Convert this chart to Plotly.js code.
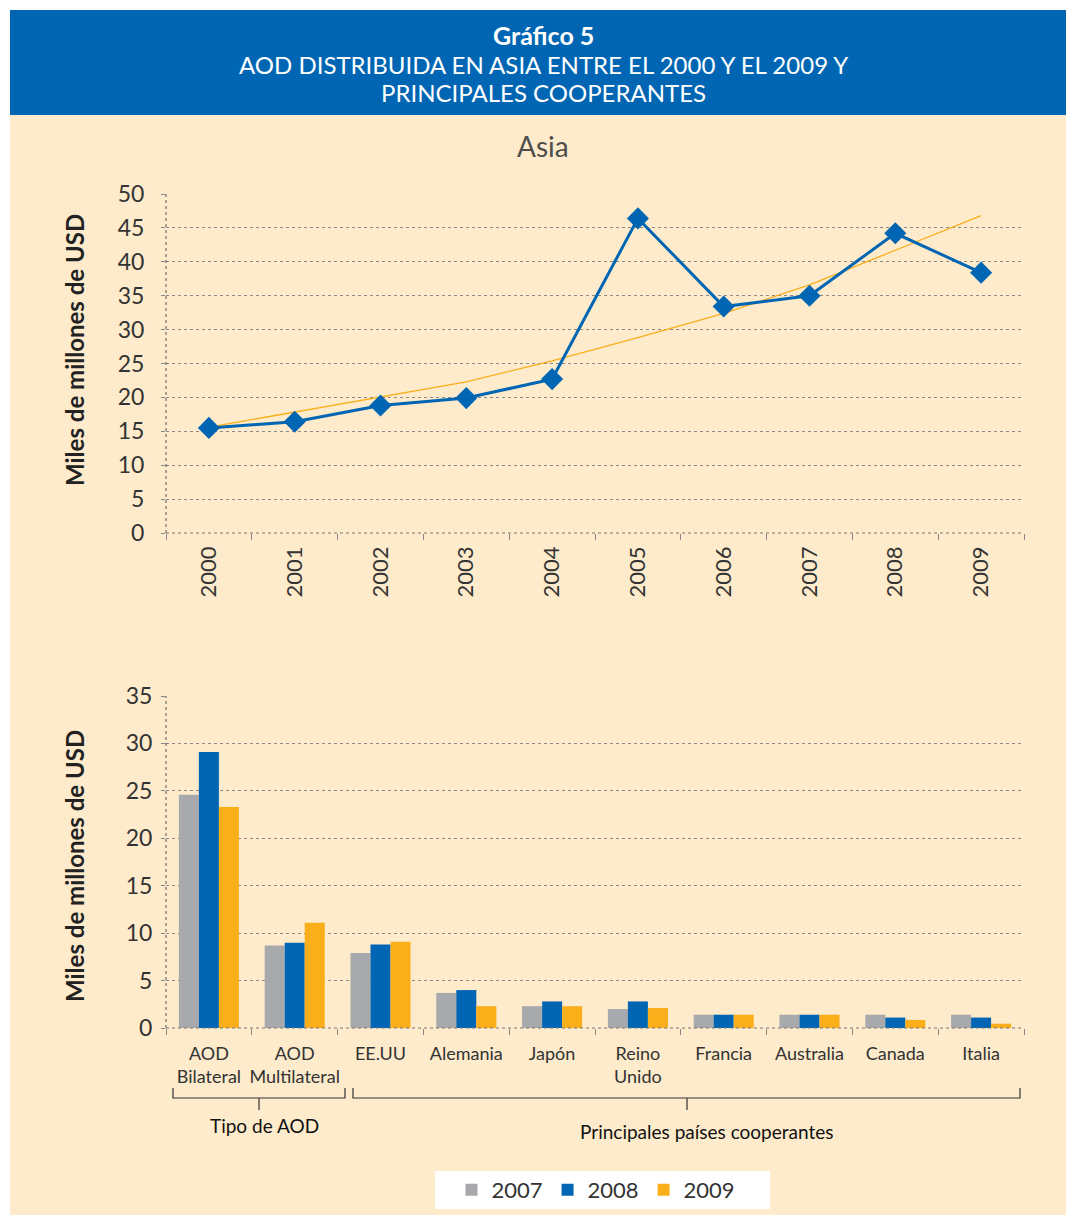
<!DOCTYPE html>
<html>
<head>
<meta charset="utf-8">
<script src="https://cdn.plot.ly/plotly-3.0.1.min.js"></script>
<style>html,body{margin:0;padding:0;background:#fff;}#chart{width:1066px;height:1215px;}</style>
</head>
<body>
<div id="chart"></div>
<script>
// ---- Data ----
const years = ['2000','2001','2002','2003','2004','2005','2006','2007','2008','2009'];
const asiaAOD = [15.5, 16.4, 18.8, 19.9, 22.7, 46.4, 33.4, 35.0, 44.2, 38.4];
const asiaTrend = [15.6, 17.8, 20.0, 22.3, 25.4, 28.8, 32.4, 36.6, 41.7, 46.8];

const donors = ['AOD<br>Bilateral', 'AOD<br>Multilateral', 'EE.UU', 'Alemania', 'Japón', 'Reino<br>Unido', 'Francia', 'Australia', 'Canada', 'Italia'];
const v2007 = [24.6, 8.7, 7.9, 3.7, 2.3, 2.0, 1.4, 1.4, 1.4, 1.4];
const v2008 = [29.1, 9.0, 8.8, 4.0, 2.8, 2.8, 1.4, 1.4, 1.1, 1.1];
const v2009 = [23.3, 11.1, 9.1, 2.3, 2.3, 2.1, 1.4, 1.4, 0.85, 0.45];
const seriesNames = ['2007', '2008', '2009'];

// ---- Layout helpers ----
const W = 1066, H = 1215;
const px = x => x / W;
const py = y => 1 - y / H;

const BLUE = '#0066B3', GRAY = '#A7A9AC', ORANGE = '#F9AE1A', BEIGE = '#FEEBCB';
const FONT = 'Lato, "Open Sans", sans-serif';

const traces = [
  {x: years, y: asiaTrend, type: 'scatter', mode: 'lines', line: {color: ORANGE, width: 1.3},
   xaxis: 'x', yaxis: 'y', showlegend: false, hoverinfo: 'skip'},
  {x: years, y: asiaAOD, type: 'scatter', mode: 'lines+markers', line: {color: BLUE, width: 3},
   marker: {symbol: 'diamond', size: 17, color: BLUE}, xaxis: 'x', yaxis: 'y', showlegend: false},
  {x: donors, y: v2007, name: seriesNames[0], type: 'bar', marker: {color: GRAY}, xaxis: 'x2', yaxis: 'y2'},
  {x: donors, y: v2008, name: seriesNames[1], type: 'bar', marker: {color: BLUE}, xaxis: 'x2', yaxis: 'y2'},
  {x: donors, y: v2009, name: seriesNames[2], type: 'bar', marker: {color: ORANGE}, xaxis: 'x2', yaxis: 'y2'}
];

const gridCommon = {showgrid: true, gridcolor: '#8a8a8a', griddash: 'dot', gridwidth: 1, zeroline: false};

function ann(text, x, y, size, color, extra) {
  return Object.assign({text: text, xref: 'paper', yref: 'paper', x: px(x), y: py(y),
    xanchor: 'center', yanchor: 'middle', showarrow: false, font: {size: size, color: color}}, extra || {});
}

const layout = {
  width: W, height: H,
  margin: {l: 0, r: 0, t: 0, b: 0},
  paper_bgcolor: '#ffffff',
  plot_bgcolor: '#ffffff',
  font: {family: FONT, color: '#333'},
  showlegend: true,
  barmode: 'group',
  bargap: 0.3,
  bargroupgap: 0,
  xaxis: {domain: [px(166), px(1024)], anchor: 'y', type: 'category', range: [-0.5, 9.5],
          tickson: 'boundaries', ticks: 'outside', ticklen: 6, tickcolor: '#888',
          tickangle: -90, ticklabelstandoff: 8, tickfont: {size: 22, color: '#333'}, showgrid: false, zeroline: false, showline: false},
  yaxis: Object.assign({domain: [py(533), py(194)], anchor: 'x', range: [0, 50], dtick: 5,
          ticks: 'outside', ticklen: 4, tickcolor: '#888', ticklabelstandoff: 12, tickfont: {size: 23, color: '#333'}}, gridCommon),
  xaxis2: {domain: [px(166), px(1024)], anchor: 'y2', type: 'category', range: [-0.5, 9.5],
          tickson: 'boundaries', ticks: 'outside', ticklen: 6, tickcolor: '#888',
          tickangle: 0, ticklabelstandoff: 13, tickfont: {size: 18, color: '#333'}, showgrid: false, zeroline: false, showline: false},
  yaxis2: Object.assign({domain: [py(1028), py(696)], anchor: 'x2', range: [0, 35], dtick: 5,
          ticks: 'outside', ticklen: 4, tickcolor: '#888', ticklabelstandoff: 4, tickfont: {size: 23, color: '#333'}}, gridCommon),
  legend: {orientation: 'h', x: px(596), xanchor: 'center', y: py(1190), yanchor: 'middle',
           bgcolor: 'rgba(0,0,0,0)', font: {size: 22, color: '#333'}, traceorder: 'normal'},
  shapes: [
    {type: 'rect', xref: 'paper', yref: 'paper', x0: px(10), x1: 1, y0: 0, y1: py(10), fillcolor: BEIGE, line: {width: 0}, layer: 'below'},
    {type: 'rect', xref: 'paper', yref: 'paper', x0: px(10), x1: 1, y0: py(115), y1: py(10), fillcolor: BLUE, line: {width: 0}, layer: 'below'},
    {type: 'rect', xref: 'paper', yref: 'paper', x0: px(435), x1: px(770), y0: py(1209), y1: py(1171), fillcolor: '#ffffff', line: {width: 0}, layer: 'below'},
    // axis lines (dotted)
    {type: 'line', xref: 'paper', yref: 'paper', x0: px(166), x1: px(166), y0: py(533), y1: py(194), line: {color: '#555', width: 1, dash: 'dot'}},
    {type: 'line', xref: 'paper', yref: 'paper', x0: px(166), x1: px(1024), y0: py(533), y1: py(533), line: {color: '#777', width: 1, dash: 'dot'}},
    {type: 'line', xref: 'paper', yref: 'paper', x0: px(166), x1: px(166), y0: py(1028), y1: py(696), line: {color: '#555', width: 1, dash: 'dot'}},
    {type: 'line', xref: 'paper', yref: 'paper', x0: px(166), x1: px(1024), y0: py(1028), y1: py(1028), line: {color: '#777', width: 1, dash: 'dot'}},
    // brackets
    {type: 'path', xref: 'paper', yref: 'paper',
     path: `M ${px(173)},${py(1088)} L ${px(173)},${py(1098)} L ${px(345)},${py(1098)} L ${px(345)},${py(1088)} M ${px(259)},${py(1098)} L ${px(259)},${py(1110)}`,
     line: {color: '#333', width: 1.2}},
    {type: 'path', xref: 'paper', yref: 'paper',
     path: `M ${px(353)},${py(1088)} L ${px(353)},${py(1098)} L ${px(1020)},${py(1098)} L ${px(1020)},${py(1088)} M ${px(687)},${py(1098)} L ${px(687)},${py(1110)}`,
     line: {color: '#333', width: 1.2}}
  ],
  annotations: [
    ann('<b>Gráfico 5</b>', 543, 35, 25, '#fff'),
    ann('AOD DISTRIBUIDA EN ASIA ENTRE EL 2000 Y EL 2009 Y', 543, 64, 24, '#fff'),
    ann('PRINCIPALES COOPERANTES', 543, 92, 24, '#fff'),
    ann('Asia', 543, 146, 28, '#4d4d4d'),
    ann('<b>Miles de millones de USD</b>', 74, 350, 24, '#222', {textangle: -90}),
    ann('<b>Miles de millones de USD</b>', 74, 866, 24, '#222', {textangle: -90}),
    ann('Tipo de AOD', 264, 1125, 19, '#111'),
    ann('Principales países cooperantes', 706, 1131, 19, '#111')
  ]
};

Plotly.newPlot('chart', traces, layout, {displayModeBar: false, staticPlot: true});
</script>
</body>
</html>
